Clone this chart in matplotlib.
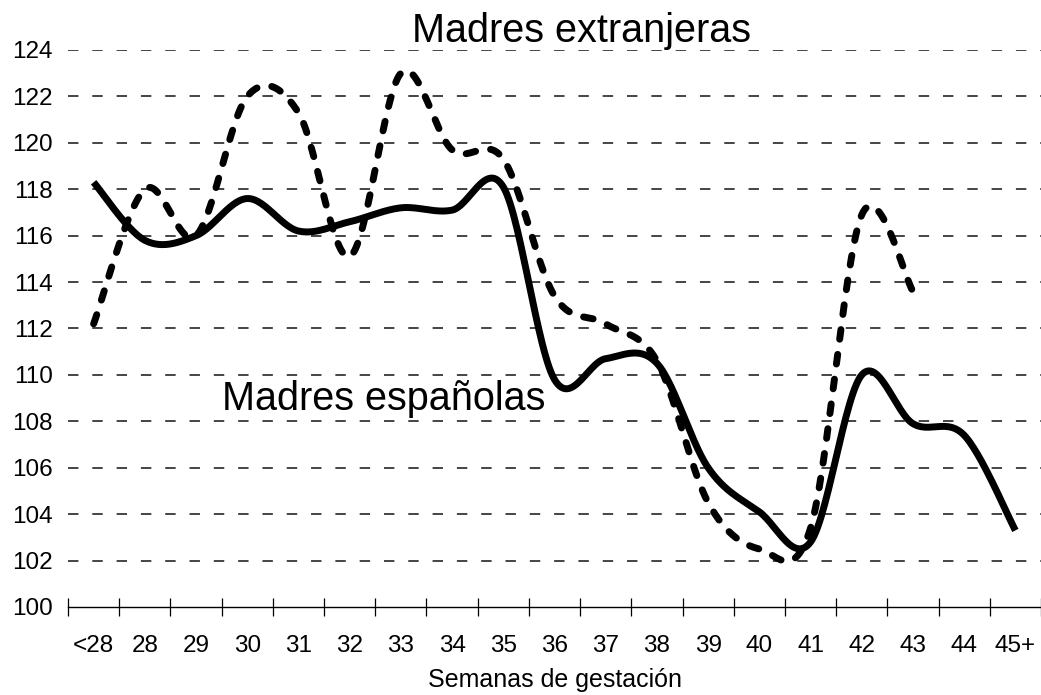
import numpy as np
import matplotlib.pyplot as plt

plt.rcParams['font.family'] = ['Liberation Sans', 'DejaVu Sans']
plt.rcParams['lines.scale_dashes'] = False

semanas = ['<28', '28', '29', '30', '31', '32', '33', '34', '35', '36',
           '37', '38', '39', '40', '41', '42', '43', '44', '45+']
espanolas = [118.3, 115.8, 116.0, 117.6, 116.2, 116.6, 117.2, 117.1, 118.1, 109.8,
             110.7, 110.5, 106.0, 104.1, 102.8, 110.0, 107.9, 107.4, 103.3]
extranjeras = [112.2, 118.0, 116.0, 122.0, 121.3, 115.1, 123.0, 119.7, 119.3, 113.4,
               112.2, 110.6, 104.5, 102.5, 103.4, 116.9, 113.6]


# suavizado tipo Excel (Catmull-Rom en el espacio de la pantalla)
def suave(vals, k=23.2 / 51.2, n=30):
    x = np.arange(len(vals), dtype=float)
    y = np.array(vals, dtype=float) * k
    px = np.concatenate([[x[0]], x, [x[-1]]])
    py = np.concatenate([[y[0]], y, [y[-1]]])
    t = np.linspace(0, 1, n)
    xs, ys = [], []
    for i in range(1, len(px) - 2):
        for p, out in ((px, xs), (py, ys)):
            p0, p1, p2, p3 = p[i - 1], p[i], p[i + 1], p[i + 2]
            c1 = p1 + (p2 - p0) / 6
            c2 = p2 - (p3 - p1) / 6
            out.extend((1 - t) ** 3 * p1 + 3 * (1 - t) ** 2 * t * c1
                       + 3 * (1 - t) * t ** 2 * c2 + t ** 3 * p2)
    return np.array(xs), np.array(ys) / k


fig = plt.figure(figsize=(10.41, 6.95), dpi=100)
ax = fig.add_axes([68 / 1041, 1 - 607 / 695, 1 - 68 / 1041, (607 - 50) / 695])

for v in range(102, 125, 2):
    ax.axhline(v, color='#444444', lw=1.4, ls=(0, (7.5, 10)), zorder=1)

xs, ys = suave(espanolas)
ax.plot(xs, ys, color='black', lw=5, solid_capstyle='butt', zorder=3)
xs, ys = suave(extranjeras)
ax.plot(xs, ys, color='black', lw=5, ls=(0, (7, 11)), dash_capstyle='round',
        solid_capstyle='butt', zorder=3)

ax.set_xlim(-0.5, len(semanas) - 0.5)
ax.set_ylim(100, 124)
ax.set_yticks(range(100, 125, 2))
ax.tick_params(axis='y', length=0, pad=11, labelsize=17.5)
ax.set_xticks(range(len(semanas)))
ax.set_xticklabels(semanas)
ax.set_xticks(np.arange(-0.5, len(semanas)), minor=True)
ax.tick_params(axis='x', which='major', length=0, pad=20, labelsize=17.5)
ax.tick_params(axis='x', which='minor', direction='inout', length=13.5, width=0.9)
ax.set_xlabel('Semanas de gestación', fontsize=18, labelpad=8)

for s in ['top', 'right', 'left']:
    ax.spines[s].set_visible(False)
ax.spines['bottom'].set_linewidth(1.0)

ax.text(9.52, 124.34, 'Madres extranjeras', fontsize=28.5, ha='center', va='baseline',
        clip_on=False)
ax.text(2.51, 108.48, 'Madres españolas', fontsize=28.5, ha='left', va='baseline')

fig.savefig('out.png', dpi=100)
